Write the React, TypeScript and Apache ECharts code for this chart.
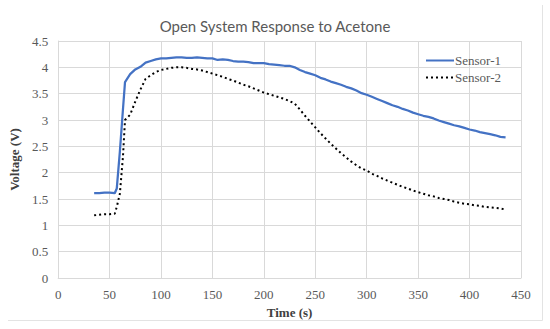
import React, { useEffect, useRef } from "react";
import * as echarts from "echarts";

const timeS = [35, 40, 45, 50, 55, 57, 60, 63, 65, 70, 75, 80, 85, 90, 95, 100, 105, 110, 115, 120, 125, 130, 135, 140, 145, 150, 155, 160, 165, 170, 175, 180, 185, 190, 195, 200, 205, 210, 215, 220, 225, 230, 235, 240, 245, 250, 255, 260, 265, 270, 275, 280, 285, 290, 295, 300, 305, 310, 315, 320, 325, 330, 335, 340, 345, 350, 355, 360, 365, 370, 375, 380, 385, 390, 395, 400, 405, 410, 415, 420, 425, 430, 435];

const sensor1 = [1.61, 1.61, 1.62, 1.62, 1.61, 1.70, 2.40, 3.20, 3.72, 3.87, 3.96, 4.01, 4.09, 4.12, 4.15, 4.17, 4.17, 4.18, 4.19, 4.19, 4.18, 4.18, 4.19, 4.18, 4.17, 4.17, 4.14, 4.15, 4.14, 4.12, 4.11, 4.11, 4.10, 4.08, 4.08, 4.08, 4.06, 4.05, 4.04, 4.03, 4.03, 4.00, 3.95, 3.91, 3.88, 3.85, 3.80, 3.77, 3.73, 3.70, 3.67, 3.63, 3.60, 3.56, 3.51, 3.48, 3.44, 3.40, 3.36, 3.32, 3.28, 3.25, 3.21, 3.18, 3.14, 3.11, 3.08, 3.06, 3.03, 2.99, 2.96, 2.93, 2.90, 2.88, 2.85, 2.82, 2.80, 2.77, 2.75, 2.73, 2.71, 2.68, 2.67];

const sensor2 = [1.19, 1.20, 1.21, 1.21, 1.22, 1.35, 1.60, 2.30, 3.00, 3.10, 3.35, 3.58, 3.78, 3.85, 3.91, 3.95, 3.97, 3.99, 4.00, 4.00, 3.99, 3.97, 3.96, 3.94, 3.91, 3.88, 3.85, 3.82, 3.78, 3.75, 3.71, 3.67, 3.64, 3.60, 3.56, 3.52, 3.49, 3.46, 3.43, 3.40, 3.36, 3.31, 3.20, 3.08, 2.97, 2.86, 2.75, 2.65, 2.55, 2.46, 2.37, 2.29, 2.21, 2.14, 2.08, 2.04, 1.98, 1.94, 1.89, 1.85, 1.81, 1.77, 1.73, 1.70, 1.66, 1.63, 1.60, 1.57, 1.55, 1.52, 1.50, 1.48, 1.45, 1.43, 1.41, 1.40, 1.38, 1.37, 1.35, 1.34, 1.33, 1.32, 1.30];

const seriesNames = ["Sensor-1", "Sensor-2"];
const chartTitle = "Open System Response to Acetone";
const xAxisTitle = "Time (s)";
const yAxisTitle = "Voltage (V)";

export default function App() {
  const ref = useRef<HTMLDivElement>(null);
  useEffect(() => {
    if (!ref.current) return;
    const chart = echarts.init(ref.current, undefined, { renderer: "svg" });
    const serif = "Liberation Serif";
    chart.setOption({
      animation: false,
      backgroundColor: "#ffffff",
      textStyle: { fontFamily: serif },
      title: {
        text: chartTitle,
        left: "center",
        top: 13,
        textStyle: { fontFamily: "Lato", fontSize: 15, fontWeight: "normal", color: "#595959" },
      },
      legend: {
        orient: "vertical",
        left: 420,
        top: 49,
        itemWidth: 28,
        itemHeight: 12,
        itemGap: 4,
        itemStyle: { opacity: 0 },
        textStyle: { fontFamily: serif, fontSize: 13, color: "#595959", padding: [0, 0, 0, -4] },
        data: seriesNames,
      },
      grid: { left: 57, right: 29, top: 41, bottom: 51, containLabel: false },
      xAxis: {
        type: "value",
        min: 0,
        max: 450,
        interval: 50,
        name: xAxisTitle,
        nameLocation: "middle",
        nameGap: 28,
        nameTextStyle: { fontFamily: serif, fontSize: 13, fontWeight: "bold", color: "#404040" },
        axisLine: { show: true, lineStyle: { color: "#d9d9d9" } },
        axisTick: { show: false },
        axisLabel: { fontFamily: serif, fontSize: 13, color: "#595959", margin: 10 },
        splitLine: { show: true, lineStyle: { color: "#d9d9d9" } },
      },
      yAxis: {
        type: "value",
        min: 0,
        max: 4.5,
        interval: 0.5,
        name: yAxisTitle,
        nameLocation: "middle",
        nameGap: 31,
        nameRotate: 90,
        nameTextStyle: { fontFamily: serif, fontSize: 13, fontWeight: "bold", color: "#404040" },
        axisLine: { show: true, lineStyle: { color: "#d9d9d9" } },
        axisTick: { show: false },
        axisLabel: { fontFamily: serif, fontSize: 13, color: "#595959", margin: 10 },
        splitLine: { show: true, lineStyle: { color: "#d9d9d9" } },
      },
      series: [
        {
          name: seriesNames[0],
          type: "line",
          data: timeS.map((t, i) => [t, sensor1[i]]),
          showSymbol: false,
          symbol: "none",
          lineStyle: { color: "#4472C4", width: 2.25 },
          itemStyle: { color: "#4472C4" },
        },
        {
          name: seriesNames[1],
          type: "line",
          data: timeS.map((t, i) => [t, sensor2[i]]),
          showSymbol: false,
          symbol: "none",
          lineStyle: { color: "#000000", width: 2, type: [2, 3] },
          itemStyle: { color: "#000000" },
        },
      ],
      graphic: [
        { type: "line", shape: { x1: 542.5, y1: 5, x2: 542.5, y2: 320.5 }, style: { stroke: "#e3e3e3", lineWidth: 1 } },
        { type: "line", shape: { x1: 8, y1: 320.5, x2: 542.5, y2: 320.5 }, style: { stroke: "#e3e3e3", lineWidth: 1 } },
      ],
    });
    return () => chart.dispose();
  }, []);
  return <div ref={ref} style={{ position: "fixed", left: 0, top: 0, width: 550, height: 329 }} />;
}
